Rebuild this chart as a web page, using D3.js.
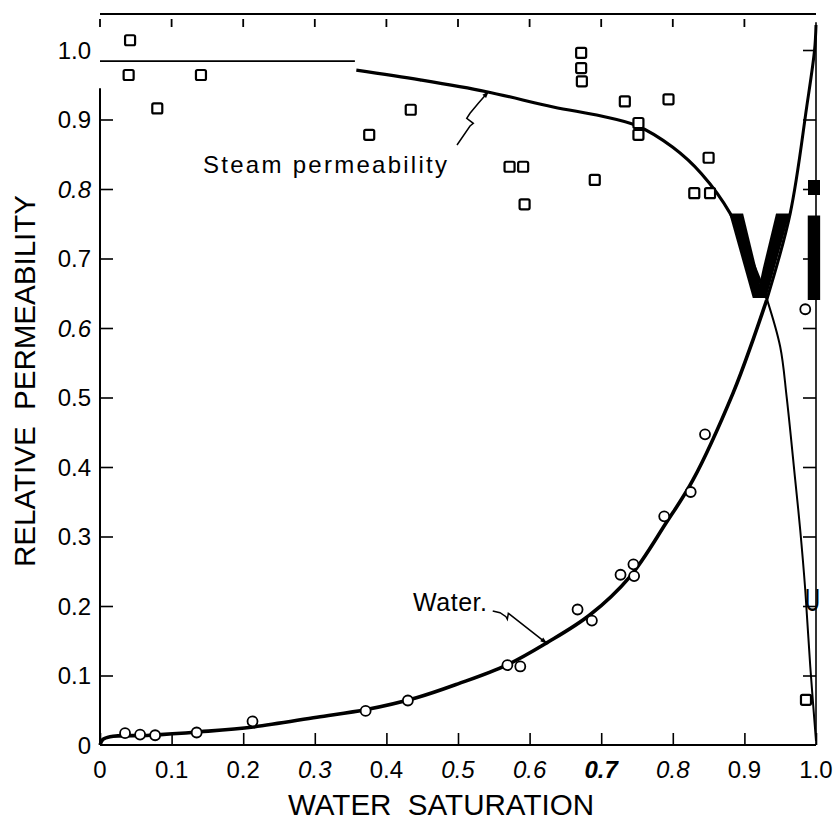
<!DOCTYPE html>
<html><head><meta charset="utf-8">
<script src="https://cdn.jsdelivr.net/npm/d3@7"></script>
<style>body{margin:0;background:#fff} svg{display:block;font-family:"Liberation Sans",Arial,Helvetica,sans-serif}</style>
</head><body>
<svg id="chart" width="840" height="824"></svg>
<script>
// ---------- data ----------
const xTickValues = [0, 0.1, 0.2, 0.3, 0.4, 0.5, 0.6, 0.7, 0.8, 0.9, 1.0];
const xTickLabels = ["0", "0.1", "0.2", "0.3", "0.4", "0.5", "0.6", "0.7", "0.8", "0.9", "1.0"];
const yTickValues = [0, 0.1, 0.2, 0.3, 0.4, 0.5, 0.6, 0.7, 0.8, 0.9, 1.0];
const yTickLabels = ["0", "0.1", "0.2", "0.3", "0.4", "0.5", "0.6", "0.7", "0.8", "0.9", "1.0"];

// measured steam relative permeability (squares)
const steamPtX = [0.042, 0.040, 0.141, 0.080, 0.376, 0.434, 0.672, 0.672, 0.673, 0.733, 0.794, 0.752, 0.752, 0.572, 0.591, 0.593, 0.691, 0.850, 0.830, 0.852, 0.986];
const steamPtY = [1.014, 0.964, 0.964, 0.916, 0.878, 0.914, 0.996, 0.974, 0.955, 0.926, 0.929, 0.895, 0.878, 0.832, 0.832, 0.778, 0.813, 0.845, 0.794, 0.794, 0.065];

// measured water relative permeability (circles)
const waterPtX = [0.035, 0.056, 0.077, 0.135, 0.213, 0.371, 0.430, 0.569, 0.587, 0.667, 0.687, 0.727, 0.745, 0.746, 0.788, 0.825, 0.845, 0.985];
const waterPtY = [0.017, 0.015, 0.014, 0.018, 0.034, 0.049, 0.064, 0.115, 0.113, 0.195, 0.179, 0.245, 0.260, 0.243, 0.329, 0.364, 0.447, 0.627];

// fitted steam curve
const steamFlatX = [0, 0.356];
const steamFlatY = [0.984, 0.984];
const steamCurveX = [0.358, 0.447, 0.540, 0.633, 0.700, 0.750, 0.800, 0.840, 0.880, 0.931, 0.950, 0.959, 0.971, 0.978, 0.985, 0.992, 1.0];
const steamCurveY = [0.971, 0.957, 0.940, 0.918, 0.905, 0.891, 0.860, 0.822, 0.765, 0.643, 0.573, 0.501, 0.381, 0.309, 0.223, 0.113, 0.006];

// fitted water curve
const waterCurveX = [0, 0.004, 0.014, 0.070, 0.140, 0.214, 0.303, 0.372, 0.442, 0.500, 0.568, 0.624, 0.684, 0.740, 0.791, 0.828, 0.884, 0.912, 0.931, 0.964, 0.987, 0.998, 1.0];
const waterCurveY = [0.0, 0.008, 0.012, 0.014, 0.019, 0.026, 0.040, 0.051, 0.068, 0.088, 0.115, 0.147, 0.187, 0.242, 0.320, 0.381, 0.506, 0.583, 0.640, 0.765, 0.918, 1.0, 1.036];

const crossX = 0.931;

// annotation leader lines (data units)
const steamArrowX = [0.4986, 0.5168, 0.5214, 0.5122, 0.5168, 0.5284, 0.5424];
const steamArrowY = [0.8633, 0.8906, 0.8945, 0.9017, 0.9089, 0.9233, 0.9400];
const waterArrowX = [0.5485, 0.5587, 0.5670, 0.5689, 0.5703, 0.6239];
const waterArrowY = [0.1928, 0.1904, 0.1846, 0.1809, 0.1895, 0.1463];

// ---------- styles ----------
const italicX = new Set(["0.3", "0.5", "0.6", "0.8"]);
const boldItalicX = new Set(["0.7"]);
const italicY = new Set(["0.8", "0.6"]);

// ---------- scales ----------
const svg = d3.select("#chart");
const x = d3.scaleLinear().domain([0, 1]).range([100, 816]);
const y = d3.scaleLinear().domain([0, 1]).range([745, 50]);

const zip = (a, b) => a.map((v, i) => [v, b[i]]);
const line = d3.line().x(d => x(d[0])).y(d => y(d[1])).curve(d3.curveCatmullRom.alpha(0.5));
const polyline = d3.line().x(d => x(d[0])).y(d => y(d[1]));

// arrow marker
svg.append("defs").append("marker")
  .attr("id", "arrow").attr("viewBox", "0 0 10 10").attr("refX", 9).attr("refY", 5)
  .attr("markerWidth", 9).attr("markerHeight", 7).attr("markerUnits", "userSpaceOnUse")
  .attr("orient", "auto")
  .append("path").attr("d", "M0,1.5 L10,5 L0,8.5 Z").attr("fill", "#000");

// ---------- frame ----------
svg.append("line").attr("x1", x(0)).attr("x2", x(1)).attr("y1", 14).attr("y2", 14)
  .attr("stroke", "#000").attr("stroke-width", 2);
svg.append("g").selectAll("line").data(xTickValues.slice(0, 10)).join("line")
  .attr("x1", d => x(d)).attr("x2", d => x(d)).attr("y1", 19).attr("y2", 27)
  .attr("stroke", "#000").attr("stroke-width", 1.8);

// left axis
const leftAxis = svg.append("g").attr("transform", `translate(${x(0)},0)`)
  .call(d3.axisLeft(y).tickValues(yTickValues.slice(1, 10)).tickSize(-13).tickFormat(""));
leftAxis.select(".domain").remove();
leftAxis.selectAll(".tick line").attr("stroke-width", 1.6);
svg.append("line").attr("x1", x(0)).attr("x2", x(0)).attr("y1", y(0)).attr("y2", y(0.945))
  .attr("stroke", "#000").attr("stroke-width", 2);

// right axis
const rightAxis = svg.append("g").attr("transform", `translate(${x(1)},0)`)
  .call(d3.axisRight(y).tickValues(yTickValues.slice(1)).tickSize(-13).tickFormat(""));
rightAxis.select(".domain").remove();
rightAxis.selectAll(".tick line").attr("stroke-width", 1.6);
svg.append("line").attr("x1", x(1)).attr("x2", x(1)).attr("y1", y(1.04)).attr("y2", y(0))
  .attr("stroke", "#000").attr("stroke-width", 1.6);

// bottom axis
const bottomAxis = svg.append("g").attr("transform", `translate(0,${y(0)})`)
  .call(d3.axisBottom(x).tickValues(xTickValues).tickSize(-12).tickFormat(""));
bottomAxis.select(".domain").remove();
bottomAxis.selectAll(".tick line").attr("stroke-width", 1.6);
svg.append("line").attr("x1", x(0)).attr("x2", x(1)).attr("y1", y(0)).attr("y2", y(0))
  .attr("stroke", "#000").attr("stroke-width", 1.8);

// x tick labels
svg.append("g").selectAll("text").data(xTickValues).join("text")
  .attr("x", d => x(d)).attr("y", 778)
  .attr("text-anchor", "middle").attr("font-size", 24).attr("fill", "#000")
  .attr("font-style", (d, i) => (italicX.has(xTickLabels[i]) || boldItalicX.has(xTickLabels[i])) ? "italic" : "normal")
  .attr("font-weight", (d, i) => boldItalicX.has(xTickLabels[i]) ? "bold" : "normal")
  .text((d, i) => xTickLabels[i]);

// y tick labels
svg.append("g").selectAll("text").data(yTickValues).join("text")
  .attr("x", 91).attr("y", d => y(d)).attr("dy", "0.36em")
  .attr("text-anchor", "end").attr("font-size", 24).attr("fill", "#000")
  .attr("font-style", (d, i) => italicY.has(yTickLabels[i]) ? "italic" : "normal")
  .text((d, i) => yTickLabels[i]);

// axis titles
svg.append("text").attr("x", 441).attr("y", 815).attr("text-anchor", "middle")
  .attr("font-size", 29).attr("textLength", 306).attr("lengthAdjust", "spacingAndGlyphs")
  .attr("fill", "#000").style("white-space", "pre").text("WATER  SATURATION");
svg.append("text").attr("transform", "translate(35,381) rotate(-90)").attr("text-anchor", "middle")
  .attr("font-size", 30).attr("textLength", 372).attr("lengthAdjust", "spacingAndGlyphs")
  .attr("fill", "#000").style("white-space", "pre").text("RELATIVE  PERMEABILITY");

// ---------- curves ----------
svg.append("path").datum(zip(steamFlatX, steamFlatY)).attr("d", polyline)
  .attr("fill", "none").attr("stroke", "#000").attr("stroke-width", 1.6);

const steamPts = zip(steamCurveX, steamCurveY);
svg.append("path").datum(steamPts.filter(d => d[0] <= crossX)).attr("d", line)
  .attr("fill", "none").attr("stroke", "#000").attr("stroke-width", 3.2);
svg.append("path").datum(steamPts.filter(d => d[0] >= crossX)).attr("d", line)
  .attr("fill", "none").attr("stroke", "#000").attr("stroke-width", 2);

const waterPts = zip(waterCurveX, waterCurveY);
svg.append("path").datum(waterPts.filter(d => d[0] <= crossX)).attr("d", line)
  .attr("fill", "none").attr("stroke", "#000").attr("stroke-width", 3.6);
svg.append("path").datum(waterPts.filter(d => d[0] >= crossX)).attr("d", line)
  .attr("fill", "none").attr("stroke", "#000").attr("stroke-width", 3);

// ---------- points ----------
svg.append("g").selectAll("rect").data(zip(steamPtX, steamPtY)).join("rect")
  .attr("x", d => x(d[0]) - 5).attr("y", d => y(d[1]) - 5)
  .attr("width", 10).attr("height", 10).attr("rx", 1.5)
  .attr("fill", "#fff").attr("stroke", "#000").attr("stroke-width", 2.2);

svg.append("g").selectAll("circle").data(zip(waterPtX, waterPtY)).join("circle")
  .attr("cx", d => x(d[0])).attr("cy", d => y(d[1])).attr("r", 5)
  .attr("fill", "#fff").attr("stroke", "#000").attr("stroke-width", 1.8);

// ---------- annotations ----------
svg.append("text").attr("x", 203).attr("y", 173).attr("font-size", 24).attr("fill", "#000")
  .attr("textLength", 244).attr("lengthAdjust", "spacing").text("Steam permeability");
svg.append("path").datum(zip(steamArrowX, steamArrowY)).attr("d", polyline)
  .attr("fill", "none").attr("stroke", "#000").attr("stroke-width", 1.5).attr("marker-end", "url(#arrow)");

svg.append("text").attr("x", 413).attr("y", 611).attr("font-size", 25).attr("fill", "#000")
  .attr("textLength", 74).attr("lengthAdjust", "spacing").text("Water.");
svg.append("path").datum(zip(waterArrowX, waterArrowY)).attr("d", polyline)
  .attr("fill", "none").attr("stroke", "#000").attr("stroke-width", 1.5).attr("marker-end", "url(#arrow)");

// ---------- scan artefacts in the reference ----------
svg.append("text").attr("transform", "translate(759.5,298) scale(0.756,1)").attr("fill", "#000")
  .attr("text-anchor", "middle").attr("font-size", 123).attr("font-weight", "bold").text("V");
svg.append("text").attr("transform", "translate(814,300) scale(0.7,1)").attr("fill", "#000")
  .attr("text-anchor", "middle").attr("font-size", 123).attr("font-weight", "bold").text("I");
svg.append("rect").attr("x", 808).attr("y", 180).attr("width", 12).attr("height", 15).attr("fill", "#000");
svg.append("text").attr("transform", "translate(812.5,611) scale(0.65,1)").attr("fill", "#000")
  .attr("text-anchor", "middle").attr("font-size", 32).text("U");
</script>
</body></html>
